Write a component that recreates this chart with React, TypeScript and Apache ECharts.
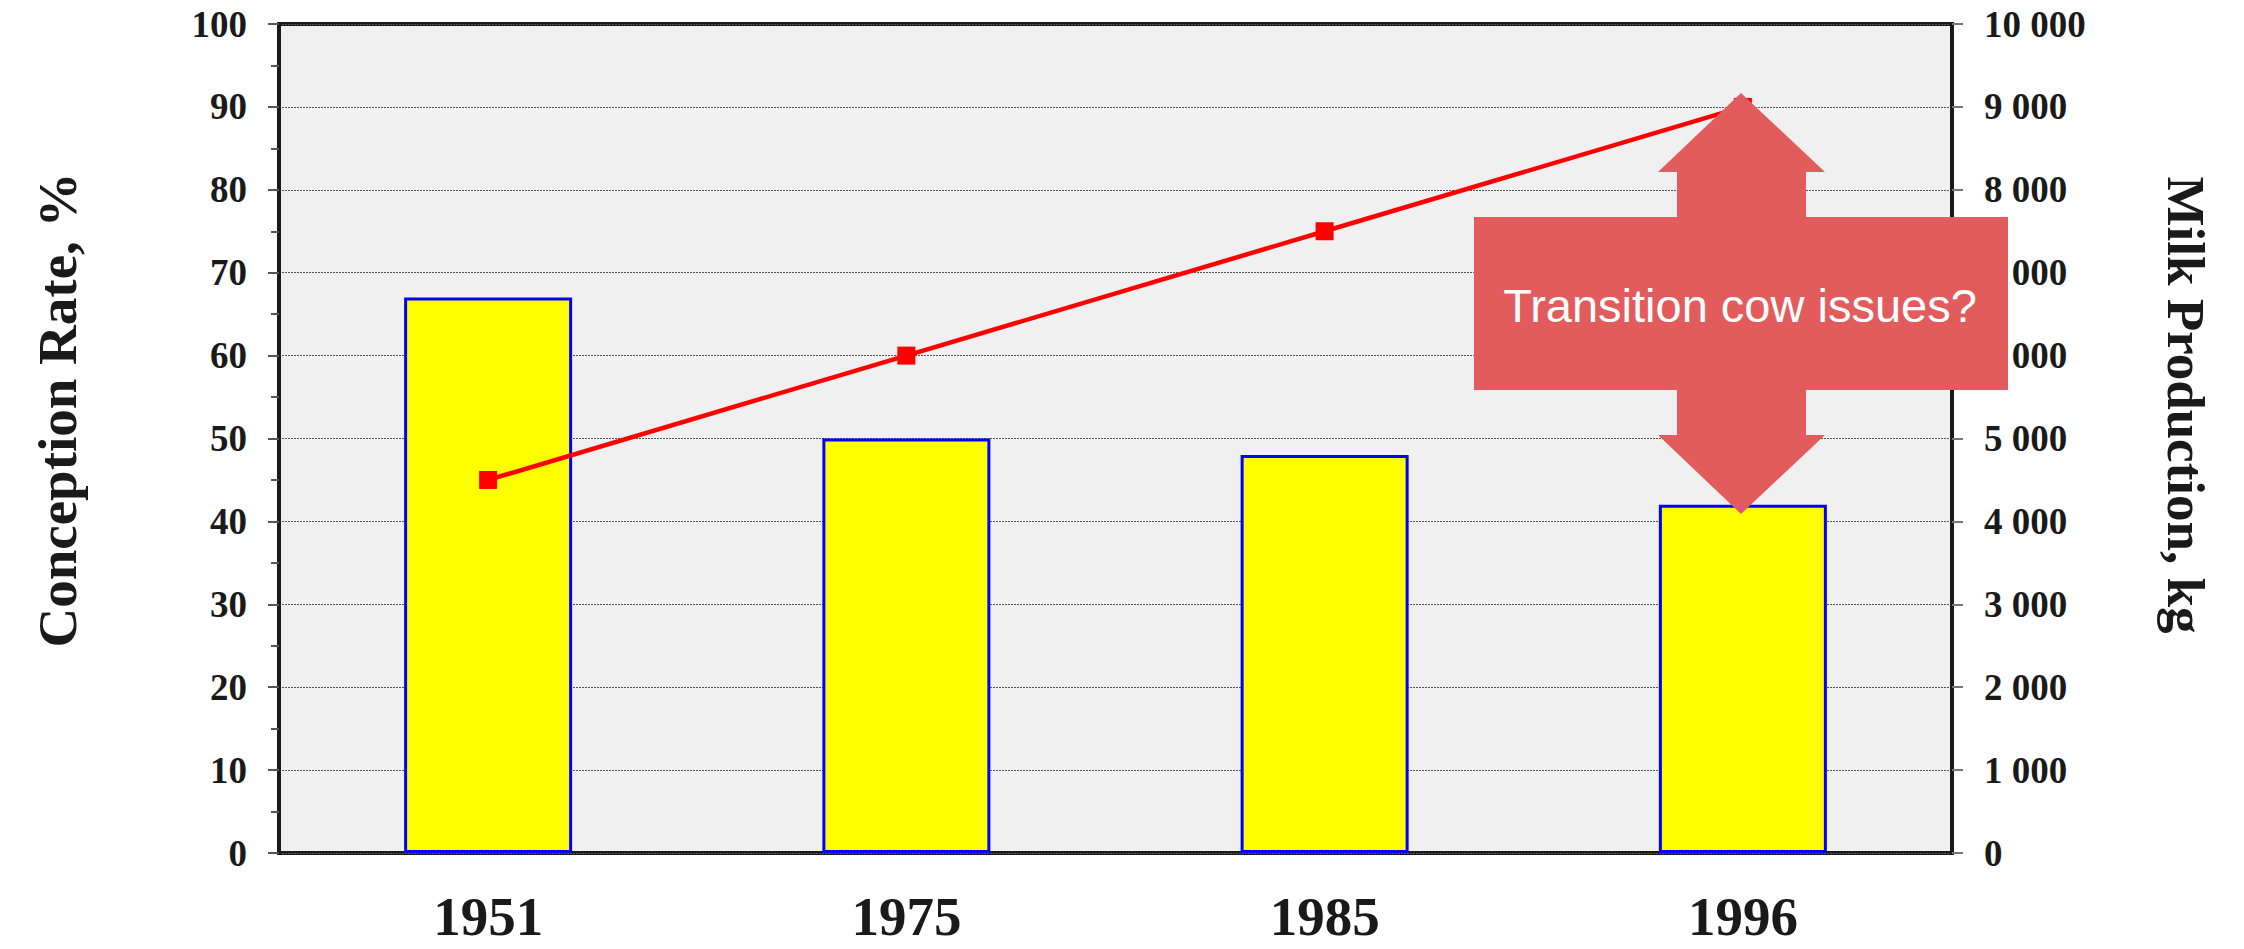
import React, { useEffect, useRef } from "react";
import * as echarts from "echarts";

const categories = ["1951", "1975", "1985", "1996"];
const conceptionRate = [67, 50, 48, 42];
const milkProduction = [4500, 6000, 7500, 9000];
const calloutText = "Transition cow issues?";
const leftTitle = "Conception Rate, %";
const rightTitle = "Milk Production, kg";

const SERIF = "'Liberation Serif', 'Times New Roman', serif";
const SANS = "'Liberation Sans', Arial, sans-serif";

export default function App() {
  const ref = useRef<HTMLDivElement>(null);
  useEffect(() => {
    if (!ref.current) return;
    const chart = echarts.init(ref.current, undefined, { renderer: "svg" });
    const arrowColor = "#e25c5e";
    const cx = 1741;
    const pts = [
      [cx, 93],
      [1825, 172],
      [1806, 172],
      [1806, 217],
      [2008, 217],
      [2008, 390],
      [1806, 390],
      [1806, 435],
      [1825, 435],
      [cx, 514],
      [1658, 435],
      [1677, 435],
      [1677, 390],
      [1474, 390],
      [1474, 217],
      [1677, 217],
      [1677, 172],
      [1658, 172],
    ];
    chart.setOption({
      animation: false,
      backgroundColor: "#ffffff",
      grid: {
        left: 279,
        right: 292,
        top: 24,
        bottom: 96,
        show: true,
        backgroundColor: "#f0f0f0",
        borderColor: "#1a1a1a",
        borderWidth: 4,
      },
      xAxis: {
        type: "category",
        data: categories,
        axisLine: { show: false },
        axisTick: { show: false },
        axisLabel: {
          fontFamily: SERIF,
          fontWeight: "bold",
          fontSize: 55,
          lineHeight: 55,
          color: "#1a1a1a",
          margin: 36,
        },
      },
      yAxis: [
        {
          type: "value",
          min: 0,
          max: 100,
          interval: 10,
          position: "left",
          axisLine: { show: true, lineStyle: { color: "#1a1a1a", width: 4 } },
          axisTick: { show: true, length: 11, lineStyle: { color: "#555", width: 2 } },
          minorTick: { show: true, splitNumber: 2, length: 8, lineStyle: { color: "#555", width: 2 } },
          splitLine: { show: true, lineStyle: { color: "#555", width: 1, type: [2, 1] } },
          axisLabel: {
            fontFamily: SERIF,
            fontWeight: "bold",
            fontSize: 37,
            color: "#1a1a1a",
            margin: 32,
          },
        },
        {
          type: "value",
          min: 0,
          max: 10000,
          interval: 1000,
          position: "right",
          axisLine: { show: true, lineStyle: { color: "#1a1a1a", width: 4 } },
          axisTick: { show: true, length: 11, lineStyle: { color: "#777", width: 2 } },
          splitLine: { show: false },
          axisLabel: {
            fontFamily: SERIF,
            fontWeight: "bold",
            fontSize: 37,
            color: "#1a1a1a",
            margin: 32,
            formatter: (v: number) => String(v).replace(/\B(?=(\d{3})+(?!\d))/g, " "),
          },
        },
      ],
      series: [
        {
          type: "bar",
          yAxisIndex: 0,
          data: conceptionRate,
          barWidth: 168,
          itemStyle: { color: "#ffff00", borderColor: "#0000ff", borderWidth: 3 },
          z: 2,
        },
        {
          type: "line",
          yAxisIndex: 1,
          data: milkProduction,
          lineStyle: { color: "#ff0000", width: 4.5 },
          itemStyle: { color: "#ff0000" },
          symbol: "rect",
          symbolSize: 18,
          z: 3,
        },
      ],
      graphic: [
        {
          type: "text",
          x: 57,
          y: 410,
          rotation: Math.PI / 2,
          style: {
            text: leftTitle,
            fontFamily: SERIF,
            fontWeight: "bold",
            fontSize: 55,
            fill: "#1a1a1a",
            align: "center",
            verticalAlign: "middle",
          },
        },
        {
          type: "text",
          x: 2186,
          y: 405,
          rotation: -Math.PI / 2,
          style: {
            text: rightTitle,
            fontFamily: SERIF,
            fontWeight: "bold",
            fontSize: 53,
            fill: "#1a1a1a",
            align: "center",
            verticalAlign: "middle",
          },
        },
        {
          type: "polygon",
          z: 100,
          shape: { points: pts },
          style: { fill: arrowColor },
        },
        {
          type: "text",
          z: 101,
          x: 1740,
          y: 305,
          style: {
            text: calloutText,
            fontFamily: SANS,
            fontSize: 47,
            fill: "#ffffff",
            align: "center",
            verticalAlign: "middle",
          },
        },
      ],
    });
    return () => chart.dispose();
  }, []);
  return (
    <div
      ref={ref}
      style={{ position: "absolute", left: 0, top: 0, width: 2244, height: 949 }}
    />
  );
}
